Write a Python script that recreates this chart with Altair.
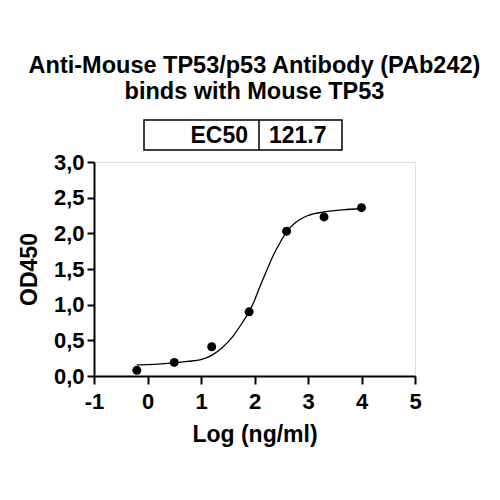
import altair as alt
import pandas as pd

# measured points
log_conc = [-0.2, 0.5, 1.2, 1.9, 2.6, 3.3, 4.0]
od450 = [0.08, 0.19, 0.41, 0.90, 2.03, 2.23, 2.36]

# fitted curve
curve_x = [-0.2, 0.0, 0.25, 0.5, 0.75, 1.0, 1.2, 1.4, 1.6, 1.8, 1.9, 2.0, 2.1,
           2.2, 2.35, 2.5, 2.6, 2.75, 3.0, 3.3, 3.65, 4.0]
curve_y = [0.155, 0.16, 0.17, 0.185, 0.205, 0.23, 0.29, 0.40, 0.56, 0.78, 0.90,
           1.06, 1.25, 1.43, 1.69, 1.90, 2.02, 2.14, 2.25, 2.30, 2.33, 2.345]

x_ticks = [-1, 0, 1, 2, 3, 4, 5]
y_ticks = [0.0, 0.5, 1.0, 1.5, 2.0, 2.5, 3.0]

title_lines = ["Anti-Mouse TP53/p53 Antibody (PAb242)", "binds with Mouse TP53"]
table_label = "EC50"
table_value = "121.7"

FONT = "Liberation Sans"

pts = pd.DataFrame({"x": log_conc, "y": od450})
crv = pd.DataFrame({"x": curve_x, "y": curve_y})

xscale = alt.Scale(domain=[-1, 5], nice=False, zero=False)
yscale = alt.Scale(domain=[0, 3], nice=False)

xaxis = alt.Axis(values=x_ticks, labelExpr="'' + datum.value", title="Log (ng/ml)", grid=False,
                 domainColor="black", domainWidth=2, tickColor="black", tickWidth=2,
                 tickSize=8, labelFont=FONT, labelFontWeight="bold", labelFontSize=22,
                 labelColor="black", labelPadding=7, titleFont=FONT, titleFontWeight="bold",
                 titleFontSize=23, titleColor="black", titlePadding=11, labelFlush=False,
                 labelOverlap=False)
yaxis = alt.Axis(values=y_ticks, labelExpr="replace(format(datum.value, '.1f'), '.', ',')",
                 title="OD450", grid=False, domainColor="black", domainWidth=2,
                 tickColor="black", tickWidth=2, tickSize=7, labelFont=FONT,
                 labelFontWeight="bold", labelFontSize=22, labelColor="black",
                 labelPadding=3, titleFont=FONT, titleFontWeight="bold", titleFontSize=23,
                 titleColor="black", titlePadding=12, labelFlush=False, labelOverlap=False)

curve = alt.Chart(crv).mark_line(color="black", strokeWidth=1.3, interpolate="monotone").encode(
    x=alt.X("x:Q", scale=xscale, axis=xaxis),
    y=alt.Y("y:Q", scale=yscale, axis=yaxis),
)
dots = alt.Chart(pts).mark_circle(color="black", opacity=1, size=80).encode(
    x=alt.X("x:Q", scale=xscale, axis=xaxis),
    y=alt.Y("y:Q", scale=yscale, axis=yaxis),
)

box_df = pd.DataFrame({"label": [table_label], "value": [table_value]})
box = alt.Chart(box_df).mark_rect(fill="white", stroke="black", strokeWidth=1.5).encode(
    x=alt.value(50), x2=alt.value(248), y=alt.value(-42), y2=alt.value(-12))
divider = alt.Chart(box_df).mark_rule(color="black", strokeWidth=1.5).encode(
    x=alt.value(165), y=alt.value(-42), y2=alt.value(-12))
lbl = alt.Chart(box_df).mark_text(font=FONT, fontWeight="bold", fontSize=23, align="right",
                                  baseline="alphabetic", color="black").encode(
    text="label:N", x=alt.value(154), y=alt.value(-19.5))
val = alt.Chart(box_df).mark_text(font=FONT, fontWeight="bold", fontSize=23, align="left",
                                  baseline="alphabetic", color="black").encode(
    text="value:N", x=alt.value(175), y=alt.value(-19.5))

chart = alt.layer(curve, dots, box, divider, lbl, val).properties(
    width=321, height=214,
    autosize=alt.AutoSizeParams(type="none"),
    padding={"left": 86, "top": 154, "right": 77, "bottom": 116},
    title=alt.TitleParams(text=title_lines, font=FONT, fontWeight="bold", fontSize=23.5,
                          color="black", anchor="middle", offset=16, lineHeight=26),
).configure_view(strokeWidth=0).configure_axis(grid=False).configure(background="white")

chart.save("out.html", embed_options={"renderer": "svg", "actions": False})
